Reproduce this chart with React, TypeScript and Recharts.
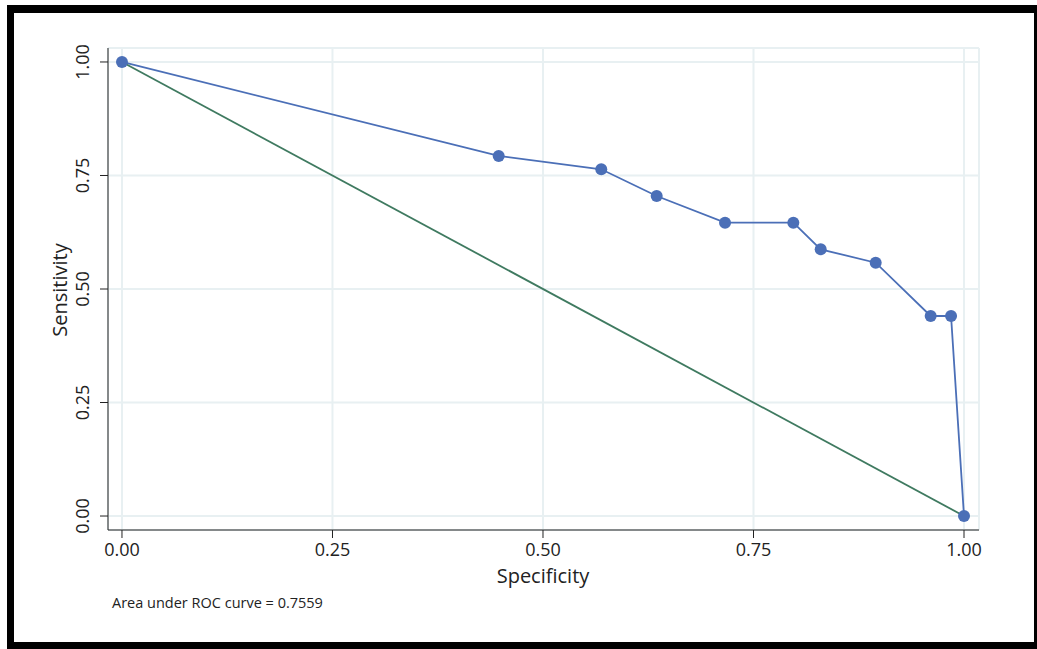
import React from 'react';
import { ComposedChart, Line, XAxis, YAxis, CartesianGrid } from 'recharts';

// ROC points
const specificity = [0, 0.4474, 0.5692, 0.635, 0.7162, 0.7973, 0.8298, 0.8951, 0.9604, 0.9846, 1];
const sensitivity = [1, 0.793, 0.7637, 0.7048, 0.646, 0.646, 0.5874, 0.5579, 0.4405, 0.4405, 0];
const refSpec = [0, 1];
const refSens = [1, 0];
const axisTicks = [0, 0.25, 0.5, 0.75, 1];
const aucText = 'Area under ROC curve = 0.7559';

const rocData = specificity.map((x, i) => ({ x, y: sensitivity[i] }));
const refData = refSpec.map((x, i) => ({ x, y: refSens[i] }));

const FONT = '"Open Sans", sans-serif';
const BLUE = '#4b6fb7';
const GREEN = '#3f7a60';
const GRID = '#e8f0f2';

const XTick = (props: any) => {
  const { x, y, payload } = props;
  return (
    <text x={x} y={y + 18} textAnchor="middle" fontSize={18} fontFamily={FONT} fill="#222">
      {Number(payload.value).toFixed(2)}
    </text>
  );
};

const YTick = (props: any) => {
  const { x, y, payload } = props;
  const bx = x - 11;
  return (
    <text
      x={bx}
      y={y}
      transform={`rotate(-90 ${bx} ${y})`}
      textAnchor="middle"
      fontSize={18}
      fontFamily={FONT}
      fill="#222"
    >
      {Number(payload.value).toFixed(2)}
    </text>
  );
};

export default function App() {
  return (
    <div style={{ position: 'absolute', left: 0, top: 0, width: 1037, height: 649, overflow: 'hidden', background: '#fff' }}>
      <ComposedChart width={1037} height={649} margin={{ top: 48, right: 58, bottom: 0, left: 0 }}>
        <CartesianGrid stroke={GRID} strokeWidth={2} />
        <XAxis
          type="number"
          dataKey="x"
          domain={[-0.0166, 1.0178]}
          ticks={axisTicks}
          allowDataOverflow
          height={119}
          tickSize={8}
          tickMargin={0}
          stroke="#222"
          tick={<XTick />}
        />
        <YAxis
          type="number"
          dataKey="y"
          domain={[-0.0308, 1.0308]}
          ticks={axisTicks}
          allowDataOverflow
          width={108}
          tickSize={8}
          tickMargin={0}
          stroke="#222"
          tick={<YTick />}
        />
        <Line
          data={rocData}
          dataKey="y"
          type="linear"
          stroke={BLUE}
          strokeWidth={1.8}
          dot={{ r: 6, fill: BLUE, stroke: 'none' }}
          activeDot={false}
          isAnimationActive={false}
        />
        <Line
          data={refData}
          dataKey="y"
          type="linear"
          stroke={GREEN}
          strokeWidth={1.8}
          dot={false}
          activeDot={false}
          isAnimationActive={false}
        />
      </ComposedChart>
      <svg width={1037} height={649} style={{ position: 'absolute', left: 0, top: 0, pointerEvents: 'none' }}>
        <rect x={7} y={5} width={7} height={644} fill="#000" />
        <rect x={7} y={5} width={1030} height={8} fill="#000" />
        <rect x={1034} y={5} width={3} height={644} fill="#000" />
        <rect x={7} y={642} width={1030} height={7} fill="#000" />
        <text x={543} y={583} textAnchor="middle" fontSize={20} fontFamily={FONT} fill="#222">
          Specificity
        </text>
        <text x={67} y={290} transform="rotate(-90 67 290)" textAnchor="middle" fontSize={20} fontFamily={FONT} fill="#222">
          Sensitivity
        </text>
        <text x={112} y={608} fontSize={14.5} fontFamily={FONT} fill="#222">
          {aucText}
        </text>
      </svg>
    </div>
  );
}
